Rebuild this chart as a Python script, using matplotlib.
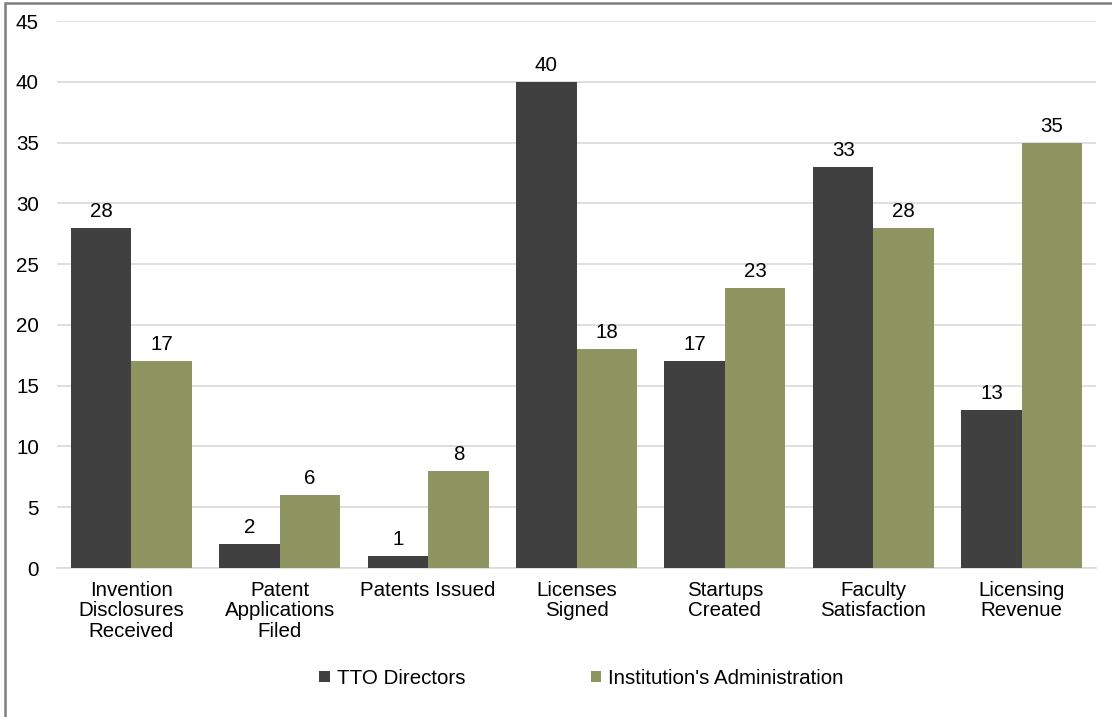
import numpy as np
import matplotlib
matplotlib.use('Agg')
import matplotlib.pyplot as plt
from matplotlib.patches import Rectangle

# 데이터
categories = ['Invention\nDisclosures\nReceived', 'Patent\nApplications\nFiled', 'Patents Issued',
              'Licenses\nSigned', 'Startups\nCreated', 'Faculty\nSatisfaction', 'Licensing\nRevenue']
tto_directors = [28, 2, 1, 40, 17, 33, 13]
institution_admin = [17, 6, 8, 18, 23, 28, 35]
series_names = ['TTO Directors', "Institution's Administration"]

plt.rcParams['font.family'] = ['Liberation Sans', 'DejaVu Sans']
fs = 14.8

fig = plt.figure(figsize=(11.12, 7.17), dpi=100)
ax = fig.add_axes([0.0513, 0.2078, 0.9343, 0.7629])

x = np.arange(len(categories))
w = 0.408
c1, c2 = '#404040', '#8E9560'
b1 = ax.bar(x - w/2, tto_directors, w, color=c1, label=series_names[0], zorder=3)
b2 = ax.bar(x + w/2, institution_admin, w, color=c2, label=series_names[1], zorder=3)

# 막대 위 값 표시
for bars in (b1, b2):
    for b in bars:
        h = b.get_height()
        ax.annotate(f'{h:g}', (b.get_x() + b.get_width()/2, h), xytext=(0, 5),
                    textcoords='offset points', ha='center', va='bottom', fontsize=fs)

ax.set_xlim(-0.5, len(categories) - 0.5)
ax.set_ylim(0, 45)
ax.set_yticks(range(0, 46, 5))
ax.set_xticks(x)
ax.set_xticklabels(categories, fontsize=fs, linespacing=1.1)
ax.tick_params(axis='y', labelsize=fs, length=0, pad=13)
ax.tick_params(axis='x', length=0, pad=9)
ax.grid(axis='y', color='#D9D9D9', linewidth=1.2, zorder=0)
for s in ['top', 'right', 'left']:
    ax.spines[s].set_visible(False)
ax.spines['bottom'].set_color('#D9D9D9')
ax.spines['bottom'].set_linewidth(1.2)

fig.legend(loc='center', bbox_to_anchor=(0.523, 0.054), ncol=2, frameon=False,
           fontsize=fs, handlelength=0.5, handleheight=0.5, handletextpad=0.35,
           columnspacing=6.1)

# 바깥 테두리
fig.add_artist(Rectangle((5/1112, -0.1), 1.2, 1 - 3/717 + 0.1, transform=fig.transFigure,
                         fill=False, edgecolor='#7F7F7F', linewidth=1.8))

plt.savefig('out.png', dpi=100)
